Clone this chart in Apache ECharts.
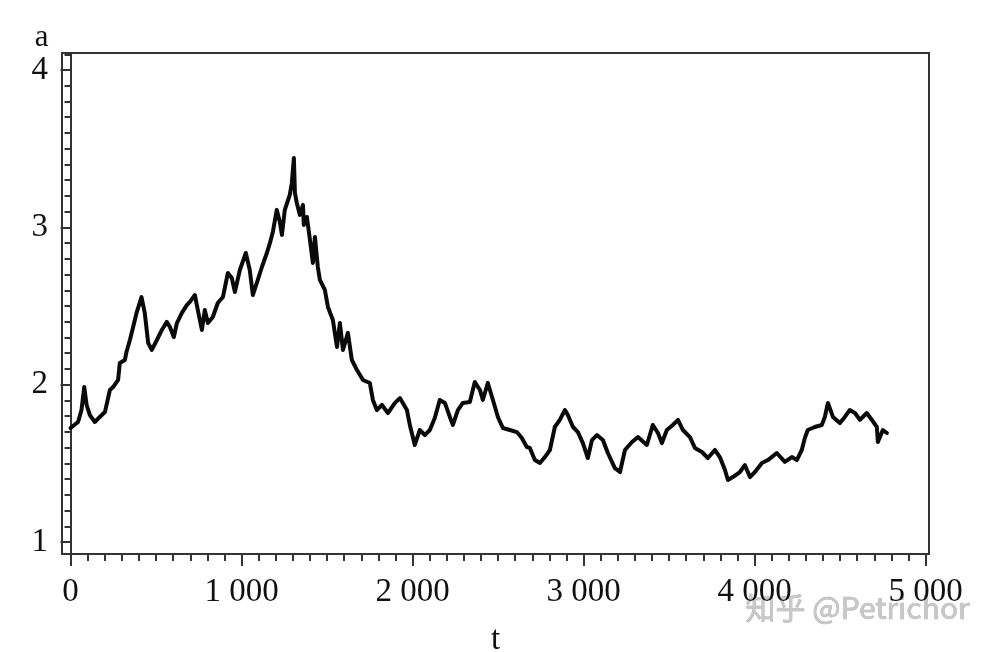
<!DOCTYPE html>
<html>
<head>
<meta charset="utf-8">
<script src="https://cdn.jsdelivr.net/npm/echarts@6/dist/echarts.min.js"></script>
<style>
html,body{margin:0;padding:0;background:#fff;}
#chart{width:998px;height:652px;}
</style>
</head>
<body>
<div id="chart"></div>
<script>
// time values t
const tValues = [0,44,64,80,94,113,142,171,201,230,
249,278,288,318,327,347,366,386,415,434,
454,475,505,534,563,581,604,622,651,681,
698,727,744,768,785,803,832,861,891,920,
943,961,990,1025,1048,1066,1095,1119,1148,1166,
1183,1206,1224,1236,1253,1282,1294,1306,1312,1323,
1341,1359,1364,1382,1400,1417,1429,1446,1458,1487,
1505,1534,1558,1575,1593,1622,1645,1675,1710,1750,
1768,1791,1821,1856,1897,1926,1967,1984,2013,2042,
2072,2101,2130,2159,2189,2218,2236,2265,2294,2335,
2364,2394,2411,2440,2470,2499,2528,2569,2610,2639,
2668,2686,2715,2745,2774,2803,2832,2861,2891,2908,
2938,2967,2996,3025,3049,3078,3113,3142,3183,3213,
3242,3283,3318,3370,3405,3435,3458,3487,3522,3552,
3581,3622,3651,3692,3727,3768,3797,3827,3844,3873,
3914,3943,3973,4002,4043,4078,4130,4177,4218,4247,
4276,4294,4311,4352,4393,4411,4429,4458,4499,4528,
4557,4587,4616,4656,4686,4715,4721,4750,4774];
// series values a(t)
const aValues = [1.725,1.763,1.839,1.985,1.871,1.807,1.763,1.795,1.826,1.966,
1.985,2.030,2.138,2.157,2.208,2.284,2.367,2.456,2.557,2.456,
2.265,2.221,2.284,2.348,2.399,2.367,2.303,2.392,2.456,2.507,
2.526,2.570,2.475,2.348,2.475,2.392,2.430,2.519,2.557,2.710,
2.678,2.589,2.729,2.837,2.729,2.570,2.666,2.748,2.837,2.901,
2.971,3.111,3.034,2.952,3.111,3.206,3.282,3.441,3.219,3.155,
3.079,3.142,3.015,3.066,2.920,2.774,2.939,2.748,2.666,2.602,
2.494,2.411,2.240,2.392,2.221,2.329,2.157,2.093,2.030,2.011,
1.903,1.839,1.871,1.820,1.884,1.915,1.839,1.744,1.617,1.712,
1.680,1.712,1.788,1.903,1.884,1.795,1.744,1.839,1.884,1.890,
2.017,1.966,1.903,2.011,1.903,1.795,1.725,1.712,1.699,1.661,
1.604,1.598,1.521,1.502,1.540,1.585,1.731,1.776,1.839,1.807,
1.731,1.699,1.629,1.534,1.648,1.680,1.648,1.566,1.470,1.445,
1.585,1.636,1.667,1.617,1.744,1.693,1.629,1.712,1.744,1.776,
1.712,1.667,1.598,1.572,1.534,1.585,1.540,1.458,1.394,1.413,
1.445,1.489,1.413,1.445,1.502,1.521,1.566,1.509,1.540,1.521,
1.585,1.661,1.712,1.731,1.744,1.795,1.884,1.795,1.756,1.795,
1.839,1.820,1.776,1.820,1.776,1.731,1.636,1.712,1.693];

// tick labels
const xMajorTicks = [0,1000,2000,3000,4000,5000];
const xTickLabels = ['0','1 000','2 000','3 000','4 000','5 000'];
const yMajorTicks = [1,2,3,4];
const yTickLabels = ['1','2','3','4'];
const xMinorTicks = [];
for (let v = 0; v <= 5000; v += 100) xMinorTicks.push(v);
const yMinorTicks = [];
for (let i = 10; i <= 41; i++) yMinorTicks.push(i / 10);

const data = tValues.map((t, i) => [t, aValues[i]]);

const FONT = "'Liberation Serif','Times New Roman',serif";
const AX = '#333';
const X_MIN = -50, X_MAX = 5020, Y_MIN = 0.924, Y_MAX = 4.108;

const chart = echarts.init(document.getElementById('chart'), null, {renderer: 'canvas'});
chart.setOption({
  animation: false,
  backgroundColor: '#fff',
  grid: {left: 62, right: 69, top: 53, bottom: 98, show: true, borderColor: AX, borderWidth: 2,
    backgroundColor: 'transparent', containLabel: false, outerBoundsMode: 'none'},
  xAxis: [
    {
      type: 'value', min: X_MIN, max: X_MAX, position: 'bottom',
      axisLine: {show: true, lineStyle: {color: AX, width: 2}},
      axisTick: {show: true, customValues: xMajorTicks, length: 12, lineStyle: {color: AX, width: 2}},
      axisLabel: {show: true, customValues: xMajorTicks, margin: 22,
        formatter: v => xTickLabels[xMajorTicks.indexOf(v)],
        color: '#111', fontFamily: FONT, fontSize: 33},
      splitLine: {show: false},
      name: 't', nameLocation: 'middle', nameGap: 70,
      nameTextStyle: {color: '#111', fontFamily: FONT, fontSize: 33}
    },
    {
      type: 'value', min: X_MIN, max: X_MAX, position: 'bottom',
      axisLine: {show: false},
      axisTick: {show: true, customValues: xMinorTicks, length: 7, lineStyle: {color: AX, width: 2}},
      axisLabel: {show: false},
      splitLine: {show: false}
    }
  ],
  yAxis: [
    {
      type: 'value', min: Y_MIN, max: Y_MAX, position: 'left',
      axisLine: {show: true, lineStyle: {color: AX, width: 2}},
      axisTick: {show: true, customValues: yMajorTicks, length: 10, lineStyle: {color: AX, width: 2}},
      axisLabel: {show: true, customValues: yMajorTicks, margin: 14,
        formatter: v => yTickLabels[yMajorTicks.indexOf(v)],
        color: '#111', fontFamily: FONT, fontSize: 33},
      splitLine: {show: false},
      name: 'a', nameLocation: 'end', nameGap: 6,
      nameTextStyle: {color: '#111', fontFamily: FONT, fontSize: 31, align: 'right', verticalAlign: 'middle', padding: [0, 22, 0, 0]}
    },
    {
      type: 'value', min: Y_MIN, max: Y_MAX, position: 'left',
      axisLine: {show: false},
      axisTick: {show: true, customValues: yMinorTicks, length: 6, lineStyle: {color: AX, width: 2}},
      axisLabel: {show: false},
      splitLine: {show: false}
    }
  ],
  series: [{
    type: 'line', data: data, xAxisIndex: 0, yAxisIndex: 0,
    showSymbol: false, smooth: false,
    lineStyle: {color: '#0a0a0a', width: 4, join: 'round', cap: 'round'}
  }],
  graphic: [{
    type: 'text', right: 28, top: 592, silent: true,
    style: {text: '知乎 @Petrichor', font: "30px 'Noto Sans CJK SC', sans-serif", fill: '#c8c8c8', stroke: '#a0a0a0', lineWidth: 0.6}
  }]
});
</script>
</body>
</html>
